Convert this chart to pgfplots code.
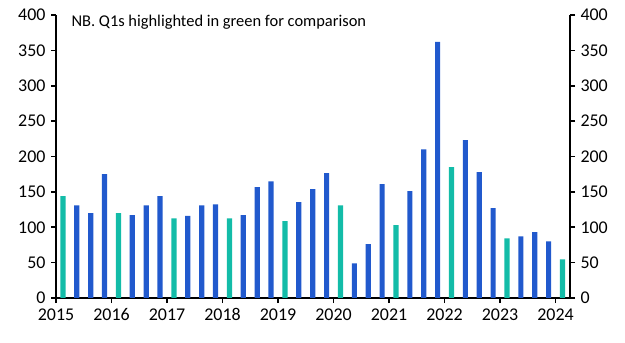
\documentclass[border=0pt]{standalone}
\usepackage{pgfplots}
\pgfplotsset{compat=1.18}
\usepackage{fontspec}
\setmainfont{Carlito}
\definecolor{barblue}{RGB}{33,89,205}
\definecolor{bargreen}{RGB}{19,188,168}
\begin{document}
\begin{tikzpicture}
\pgfplotsset{
  common/.style={
    scale only axis, width=514bp, height=283bp,
    xmin=2015, xmax=2024.26, ymin=0, ymax=400,
    ytick={0,50,...,400},
    axis line style={line width=1.6bp, black},
    major tick length=5bp,
    every tick/.style={line width=1.6bp, black},
    tick label style={font=\fontsize{18}{20}\selectfont},
    /pgf/number format/assume math mode=true,
    /pgf/number format/1000 sep={},
    tick align=outside,
  }
}
\begin{axis}[common,
  axis x line*=bottom, axis y line*=left,
  xtick={2015,2016,...,2024},
  yticklabel style={xshift=-2bp},
  xticklabel style={yshift=-2bp},
]
\addplot[ybar, bar shift=0pt, bar width=5.2bp, fill=barblue, draw=none] coordinates {
(2015.375,131) (2015.625,120) (2015.875,175)
(2016.375,117) (2016.625,131) (2016.875,144)
(2017.375,116) (2017.625,131) (2017.875,132.5)
(2018.375,117) (2018.625,156.6) (2018.875,165)
(2019.375,135.4) (2019.625,154) (2019.875,176.4)
(2020.375,49) (2020.625,76) (2020.875,161)
(2021.375,151) (2021.625,210) (2021.875,362)
(2022.375,223) (2022.625,178) (2022.875,127)
(2023.375,87) (2023.625,93) (2023.875,80)
};
\addplot[ybar, bar shift=0pt, bar width=5.2bp, fill=bargreen, draw=none] coordinates {
(2015.125,144) (2016.125,120) (2017.125,112.7) (2018.125,112.7)
(2019.125,108.5) (2020.125,131) (2021.125,103) (2022.125,185)
(2023.125,84.4) (2024.125,54.7)
};
\node[anchor=west, font=\fontsize{16.5}{18}\selectfont] at ([xshift=12bp,yshift=-7bp]rel axis cs:0,1) {NB. Q1s highlighted in green for comparison};
\end{axis}
\begin{axis}[common,
  axis x line=none, axis y line*=right,
  yticklabel style={xshift=2bp},
]
\end{axis}
\pgfresetboundingbox
\path (-56bp,-45bp) rectangle (569bp,298bp);
\end{tikzpicture}
\end{document}
